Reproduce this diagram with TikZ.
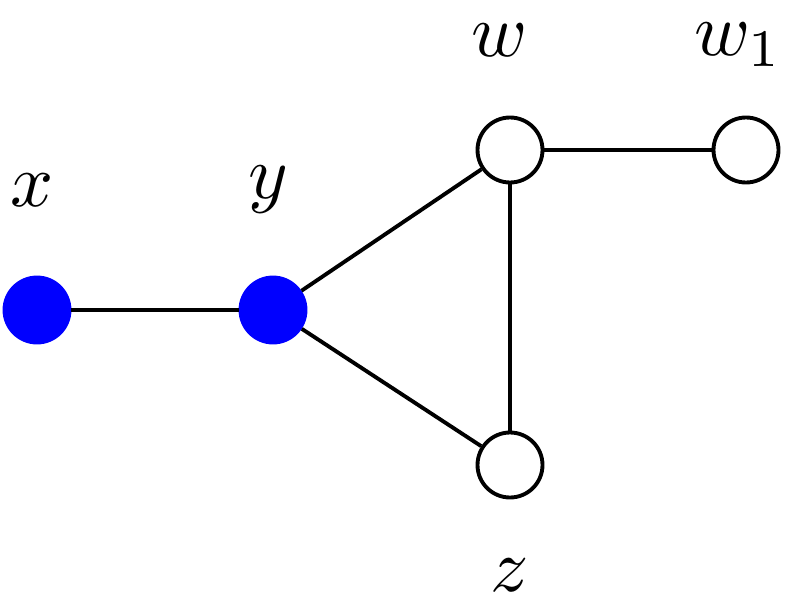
\documentclass[tikz,border=0pt]{standalone}
\usepackage{graphicx}
\usetikzlibrary{positioning}
\newcommand{\biglab}[1]{\scalebox{4.3}{$#1$}}
\begin{document}
\begin{tikzpicture}[x=0.02cm,y=-0.02cm,line width=2.2pt,
  vtx/.style={circle,draw=black,minimum size=1.3cm,inner sep=0pt},
  full/.style={vtx,draw=blue,fill=blue},
  empty/.style={vtx,fill=white},
  lab/.style={inner sep=0pt}]
		\useasboundingbox (0,0) rectangle (790,615);
		\node[full] (x) at (37,310) {};
		\node[full] (y) at (273,310) {};
		\node[empty] (w) at (510,150) {};
		\node[empty] (w1) at (746,150) {};
		\node[empty] (z) at (510,465) {};
		\draw (x) -- (y);
		\draw (y) -- (w);
		\draw (y) -- (z);
		\draw (w) -- (z);
		\draw (w) -- (w1);
		
		\node[lab] (lx) at (32,190) {\biglab{x}};
		\node[lab] (ly) at (268,190) {\biglab{y}};
		\node[lab] (lw) at (500,40) {\biglab{w}};
		\node[lab] (lw1) at (738,45) {\biglab{w_1}};
		\node[lab] (lz) at (510,575) {\biglab{z}};
\end{tikzpicture}
\end{document}
